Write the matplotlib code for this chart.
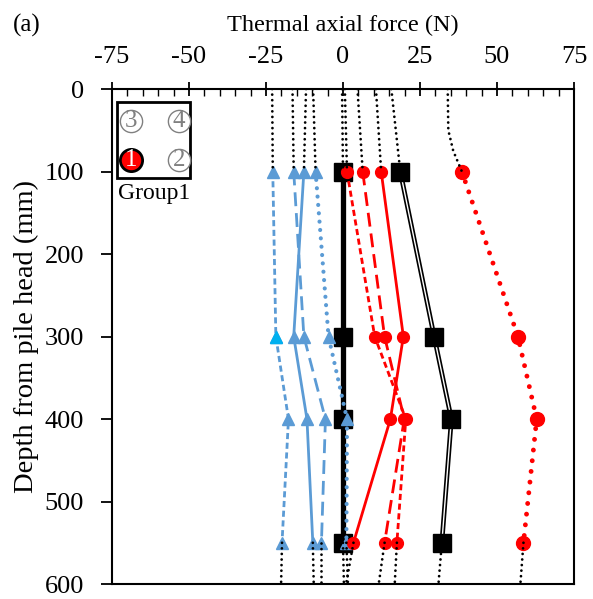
import numpy as np
import matplotlib
matplotlib.use("Agg")
import matplotlib.pyplot as plt

plt.rcParams['font.family'] = ['Liberation Serif', 'DejaVu Serif']
plt.rcParams['axes.unicode_minus'] = False

# depth of strain gauges (mm)
depth = [100, 300, 400, 550]

# thermal axial force (N) at the gauges
blue_short = [-22.8, -21.8, -17.7, -19.8]
blue_solid = [-12.7, -16.0, -11.7, -9.8]
blue_long = [-16.0, -12.7, -5.7, -7.0]
blue_dot = [-8.9, -4.7, 1.3, 1.1]
red_short = [1.3, 10.3, 20.4, 17.5]
red_long = [6.4, 13.5, 19.9, 13.5]
red_solid = [12.4, 19.6, 15.4, 3.4]
red_dot = [38.6, 56.8, 62.9, 58.6]
black_zero = [0.0, 0.0, 0.0, 0.0]
black_double = [18.6, 29.6, 35.2, 32.1]

# extrapolated values at pile head (0 mm) and toe (600 mm)
head_depth = [0, 100]
toe_depth = [550, 600]
head = {'blue_short': -23.0, 'blue_solid': -12.0, 'blue_long': -16.4, 'blue_dot': -9.7,
        'red_short': 0.6, 'red_long': 4.7, 'red_solid': 10.7, 'black_zero': -0.3,
        'black_double': 15.7}
toe = {'blue_short': -20.1, 'blue_solid': -9.5, 'blue_long': -7.0, 'blue_dot': 1.6,
       'red_short': 16.8, 'red_long': 11.6, 'red_solid': 1.0, 'black_zero': 0.3,
       'black_double': 31.0, 'red_dot': 57.6}
red_dot_head_depth = [0, 50, 75, 100]
red_dot_head = [34.0, 34.2, 35.8, 38.6]

BLUE = '#5B9BD5'
RED = '#FF0000'

fig = plt.figure(figsize=(5.93, 5.99), dpi=100)
ax = fig.add_axes([0.1889, 0.025, 0.779, 0.8264])

series = {'blue_short': blue_short, 'blue_solid': blue_solid, 'blue_long': blue_long,
          'blue_dot': blue_dot, 'red_short': red_short, 'red_long': red_long,
          'red_solid': red_solid, 'red_dot': red_dot, 'black_zero': black_zero,
          'black_double': black_double}

# black thick zero line
ax.plot(black_zero, depth, color='black', lw=3.8, marker='s', ms=12.5, zorder=3)
# black double line
ax.plot(black_double, depth, color='black', lw=3.4, solid_joinstyle='miter', zorder=3)
ax.plot(black_double, depth, color='white', lw=1.0, zorder=3)
ax.plot(black_double, depth, ls='none', marker='s', ms=12.5, color='black', zorder=4)

# blue lines
ax.plot(blue_short, depth, color=BLUE, lw=2, dashes=(2.2, 1.3), marker='^', ms=9, zorder=3)
ax.plot(blue_short[1], depth[1], ls='none', marker='^', ms=9, color='#00B0F0', zorder=4)
ax.plot(blue_solid, depth, color=BLUE, lw=2, marker='^', ms=9, zorder=3)
ax.plot(blue_long, depth, color=BLUE, lw=2, dashes=(5, 2.5), marker='^', ms=9, zorder=3)
ax.plot(blue_dot, depth, color=BLUE, lw=3, dashes=(0.01, 2), dash_capstyle='round',
        marker='^', ms=9, zorder=3)

# red lines
ax.plot(red_short, depth, color=RED, lw=2, dashes=(2.2, 1.3), marker='o', ms=8.5, zorder=3)
ax.plot(red_long, depth, color=RED, lw=2, dashes=(5, 2.5), marker='o', ms=8.5, zorder=3)
ax.plot(red_solid, depth, color=RED, lw=2, marker='o', ms=8.5, zorder=3)
ax.plot(red_dot, depth, color=RED, lw=3.5, dashes=(0.01, 2.2), dash_capstyle='round', zorder=3)
ax.plot(red_dot, depth, ls='none', color=RED, marker='o', ms=10, zorder=3)

# black dotted extrapolations to head and toe
for name, vals in series.items():
    if name in head:
        ax.plot([head[name], vals[0]], head_depth, color='black', lw=2,
                dashes=(0.01, 2), dash_capstyle='round', zorder=5)
    ax.plot([vals[-1], toe[name]], toe_depth, color='black', lw=2,
            dashes=(0.01, 2), dash_capstyle='round', zorder=5)
ax.plot(red_dot_head, red_dot_head_depth, color='black', lw=2,
        dashes=(0.01, 2), dash_capstyle='round', zorder=5)

ax.set_xlim(-75, 75)
ax.set_ylim(600, 0)
ax.set_xticks(np.arange(-75, 76, 25))
ax.set_xticks(np.arange(-75, 76, 5), minor=True)
ax.set_yticks(np.arange(0, 601, 100))
ax.xaxis.tick_top()
ax.xaxis.set_label_position('top')
ax.tick_params(axis='x', which='major', direction='inout', length=10, width=1.3,
               labelsize=19, pad=10)
ax.tick_params(axis='x', which='minor', direction='in', length=5, width=1.0)
ax.tick_params(axis='y', which='major', direction='out', length=8, width=1.3,
               labelsize=19, pad=12)
for sp in ax.spines.values():
    sp.set_linewidth(1.5)
ax.set_xlabel('Thermal axial force (N)', fontsize=17.5, labelpad=11)
ax.set_ylabel('Depth from pile head (mm)', fontsize=20.5, labelpad=4)
fig.text(0.022, 0.948, '(a)', fontsize=18)

# pile group inset
ax.add_patch(plt.Rectangle((0.010, 0.820), 0.159, 0.153, transform=ax.transAxes,
                           fill=False, ec='black', lw=2, zorder=6))
pos = {'1': (0.042, 0.856), '2': (0.145, 0.856),
       '3': (0.042, 0.935), '4': (0.145, 0.935)}
for num, (px, py) in pos.items():
    if num == '1':
        ax.plot(px, py, 'o', ms=16, mfc=RED, mec='black', mew=2, transform=ax.transAxes,
                zorder=7, clip_on=False)
        ax.text(px, py, num, color='white', fontsize=18, ha='center', va='center',
                transform=ax.transAxes, zorder=8)
    else:
        ax.plot(px, py, 'o', ms=16, mfc='white', mec='#808080', mew=1.0,
                transform=ax.transAxes, zorder=7)
        ax.text(px, py, num, color='#808080', fontsize=18, ha='center', va='center',
                transform=ax.transAxes, zorder=8)
ax.text(0.092, 0.788, 'Group1', fontsize=17, ha='center', va='center', transform=ax.transAxes)

fig.savefig('out.png', dpi=100)
